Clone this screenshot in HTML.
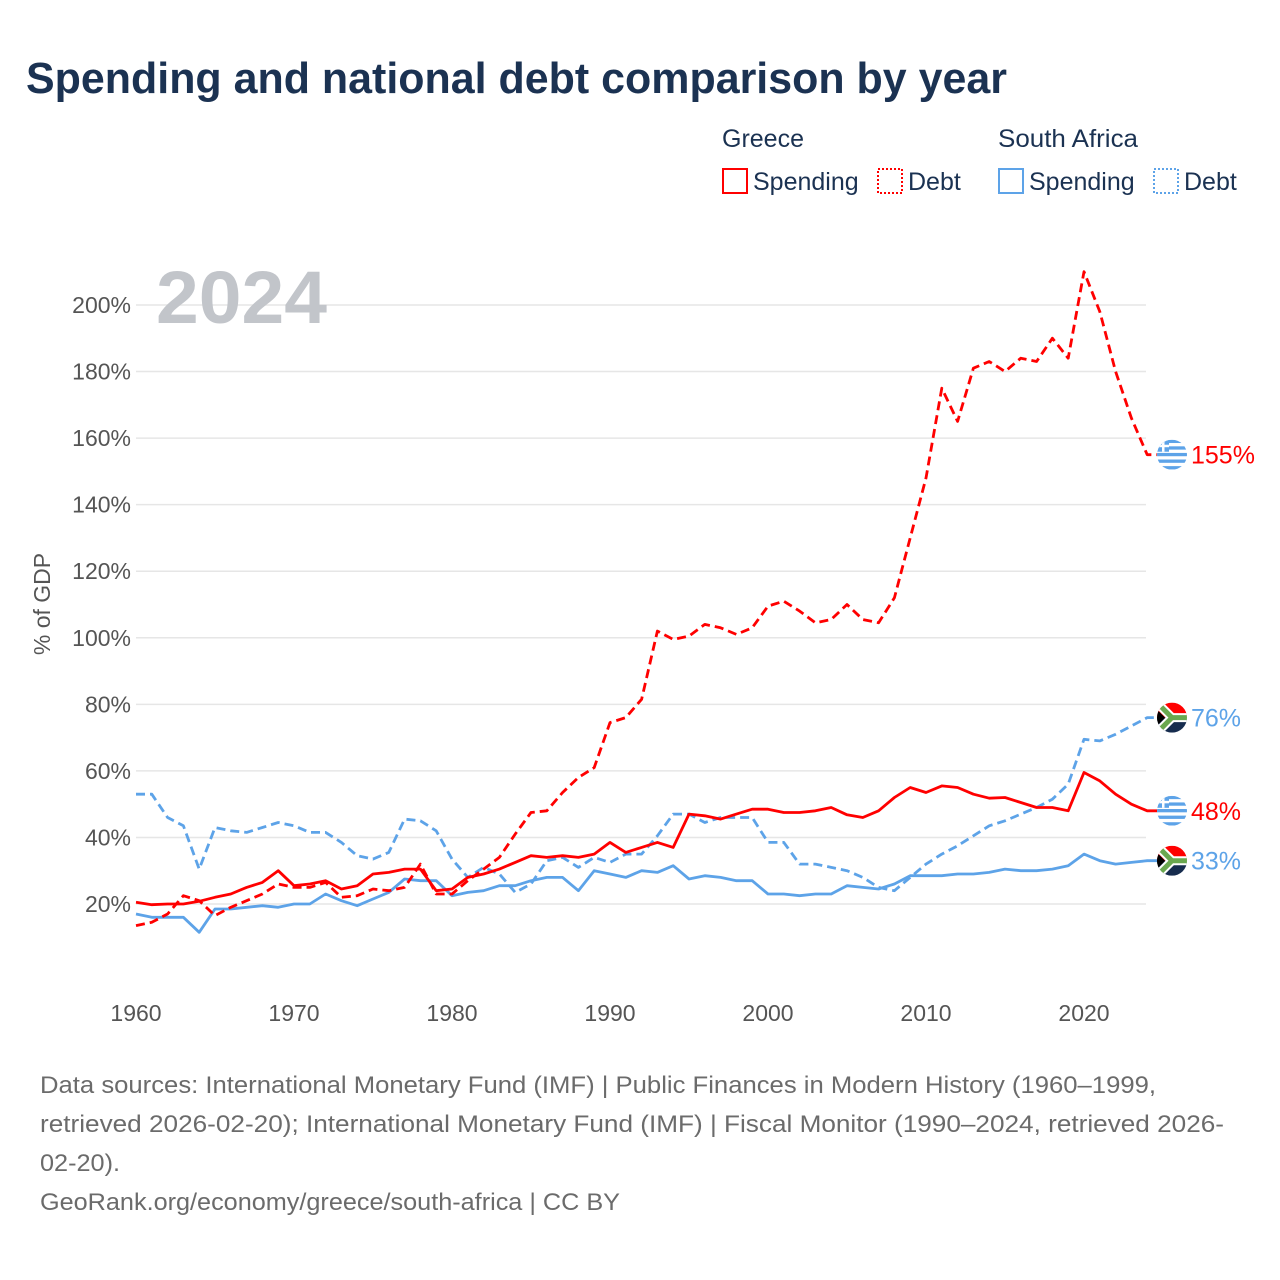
<!DOCTYPE html>
<html><head><meta charset="utf-8"><style>
body{margin:0;background:#fff;font-family:"Liberation Sans",sans-serif}
#root{position:relative;width:1280px;height:1280px;overflow:hidden}
</style></head><body>
<div id="root">
<svg id="chart" width="1280" height="1280" style="position:absolute;left:0;top:0"></svg>
</div>
<script>
const years=[];for(let y=1960;y<=2024;y++)years.push(y);
const yTicks=[20,40,60,80,100,120,140,160,180,200];
const xTicks=[1960,1970,1980,1990,2000,2010,2020];
const grSpending=[20.5,19.8,20,20,20.8,22,23,25,26.5,30,25.5,26,27,24.5,25.5,29,29.5,30.5,30.5,24,24.5,28,29,30.5,32.5,34.5,34,34.5,34,35,38.5,35.5,37,38.5,37,47,46.5,45.5,47,48.5,48.5,47.5,47.5,48,49,46.8,46,48,52,55,53.5,55.5,55,53,51.8,52,50.5,49,49,48,59.5,57,53,50,48];
const grDebt=[13.5,14.5,17,22.5,21,16.5,19,21,23,26,25,25,26.5,22,22.5,24.5,24,25,32,23,23,27,30.5,34,41,47.5,48,53.5,58,61,74.5,76,81.5,102,99.5,100.5,104,103,101,103,109.5,111,108,104.5,105.5,110,105.5,104.5,112,130,148,175,165,181,183,180,184,183,190,184,210,198,180,166,155];
const saSpending=[17,16,16,16,11.5,18.5,18.5,19,19.5,19,20,20,23,21,19.5,21.5,23.5,27.5,27,27,22.5,23.5,24,25.5,25.5,27,28,28,24,30,29,28,30,29.5,31.5,27.5,28.5,28,27,27,23,23,22.5,23,23,25.5,25,24.5,26,28.5,28.5,28.5,29,29,29.5,30.5,30,30,30.5,31.5,35,33,32,32.5,33];
const saDebt=[53,53,46,43.5,30.5,43,42,41.5,43,44.5,43.5,41.5,41.5,38.5,34.5,33.5,35.5,45.5,45,42,33.5,28,31,29,23.5,26,33,34,31,34,32.5,35,35,40.5,47,47,44.5,46,46,46,38.5,38.5,32,32,31,30,28,25,24,28,32,35,37.5,40.5,43.5,45,47,49,51.5,56,69.5,69,71,73.5,76];
const NS="http://www.w3.org/2000/svg";
const svg=document.getElementById('chart');
const X=y=>136+(y-1960)*15.8;
const Y=v=>904-(v-20)*3.328;
function el(t,a,p){const e=document.createElementNS(NS,t);for(const k in a)e.setAttribute(k,a[k]);(p||svg).appendChild(e);return e;}
function txt(s,a){const e=el('text',a);e.textContent=s;return e;}
let t;
t=txt('Spending and national debt comparison by year',{x:26,y:93,'font-size':44,'font-weight':'bold',fill:'#1b3252',textLength:981,lengthAdjust:'spacingAndGlyphs'});

t=txt('Greece',{x:722,y:147,'font-size':25,fill:'#1b3252'});
t=txt('South Africa',{x:998,y:147,'font-size':25,fill:'#1b3252',textLength:140,lengthAdjust:'spacingAndGlyphs'});
const leg=[[722,'Spending','#f00',''],[877,'Debt','#f00','2,2'],[998,'Spending','#5da3e8',''],[1153,'Debt','#5da3e8','2,2']];
const legNames=['legend-greece-spending','legend-greece-debt','legend-sa-spending','legend-sa-debt'];
leg.forEach((l,i)=>{const g=el('g',{});
el('rect',{x:l[0]+1,y:169,width:24,height:24,fill:'none',stroke:l[2],'stroke-width':2,'stroke-dasharray':l[3]},g);
const tt=el('text',{x:l[0]+31,y:190,'font-size':25,fill:'#1b3252'},g);tt.textContent=l[1];});
yTicks.forEach(v=>{const ln=el('line',{x1:136,x2:1146,y1:Y(v),y2:Y(v),stroke:'#e6e6e6','stroke-width':1.5});

const tl=txt(v+'%',{x:131,y:Y(v)+8,'font-size':23,fill:'#555','text-anchor':'end'});
});
xTicks.forEach(v=>{const tl=txt(String(v),{x:X(v),y:1021,'font-size':23,fill:'#555','text-anchor':'middle'});
});
t=txt('% of GDP',{x:0,y:0,'font-size':23,fill:'#555','text-anchor':'middle',transform:'translate(50,604) rotate(-90)'});

t=txt('2024',{x:156,y:323,'font-size':74,'font-weight':'bold',fill:'#c2c5ca',textLength:171,lengthAdjust:'spacingAndGlyphs'});

function line(data,color,dash,name){const d=data.map((v,i)=>(i?'L':'M')+X(years[i]).toFixed(1)+','+Y(v).toFixed(1)).join('')+'L1160,'+Y(data[data.length-1]).toFixed(1);
const p=el('path',{d:d,fill:'none',stroke:color,'stroke-width':2.8,'stroke-dasharray':dash,'stroke-linejoin':'round'});
}
line(saDebt,'#5da3e8','9,5','sa-debt-line');
line(saSpending,'#5da3e8','','sa-spending-line');
line(grDebt,'#f00','9,5','greece-debt-line');
line(grSpending,'#f00','','greece-spending-line');
function flag(cy,gr){const g=el('g',{});
const cx=1172;const cp='c'+Math.round(cy);el('clipPath',{id:cp},g);el('circle',{cx:cx,cy:cy,r:15},g.lastChild);
const inner=el('g',{'clip-path':'url(#'+cp+')'},g);
if(gr){el('rect',{x:cx-15,y:cy-15,width:30,height:30,fill:'#fff'},inner);
for(let i=0;i<5;i++)el('rect',{x:cx-15,y:cy-15+i*6.6,width:30,height:3.3,fill:'#5da3e8'},inner);
el('rect',{x:cx-15,y:cy-15,width:12,height:12,fill:'#5da3e8'},inner);
el('rect',{x:cx-10,y:cy-15,width:2.5,height:12,fill:'#fff'},inner);el('rect',{x:cx-15,y:cy-10,width:12,height:2.5,fill:'#fff'},inner);}
else{el('rect',{x:cx-15,y:cy-15,width:30,height:15,fill:'#f00'},inner);el('rect',{x:cx-15,y:cy,width:30,height:15,fill:'#162c4e'},inner);
el('path',{d:`M${cx-15},${cy-15}L${cx},${cy}L${cx+15},${cy}`,stroke:'#fff','stroke-width':9,fill:'none'},inner);
el('path',{d:`M${cx-15},${cy+15}L${cx},${cy}`,stroke:'#fff','stroke-width':9,fill:'none'},inner);
el('path',{d:`M${cx-15},${cy-15}L${cx},${cy}L${cx+15},${cy}M${cx-15},${cy+15}L${cx},${cy}`,stroke:'#6aa84f','stroke-width':5,fill:'none'},inner);
el('path',{d:`M${cx-15},${cy-8}L${cx-7},${cy}L${cx-15},${cy+8}Z`,fill:'#000'},inner);}}
const ends=[[grDebt,'#f00',true,'greece-debt-end-label'],[saDebt,'#5da3e8',false,'sa-debt-end-label'],[grSpending,'#f00',true,'greece-spending-end-label'],[saSpending,'#5da3e8',false,'sa-spending-end-label']];
ends.forEach(e=>{const v=e[0][e[0].length-1];const cy=Y(v);
flag(cy,e[2]);const tl=txt(Math.round(v)+'%',{x:1191,y:cy+9,'font-size':25,fill:e[1]});
});
const foot=['Data sources: International Monetary Fund (IMF) | Public Finances in Modern History (1960–1999,','retrieved 2026-02-20); International Monetary Fund (IMF) | Fiscal Monitor (1990–2024, retrieved 2026-','02-20).','GeoRank.org/economy/greece/south-africa | CC BY'];
const footW=[1116,1184,80,580];
foot.forEach((s,i)=>{const tl=txt(s,{x:40,y:1093+i*39,'font-size':24,fill:'#6b6b6b',textLength:footW[i],lengthAdjust:'spacingAndGlyphs'});
});
</script>
</body></html>
